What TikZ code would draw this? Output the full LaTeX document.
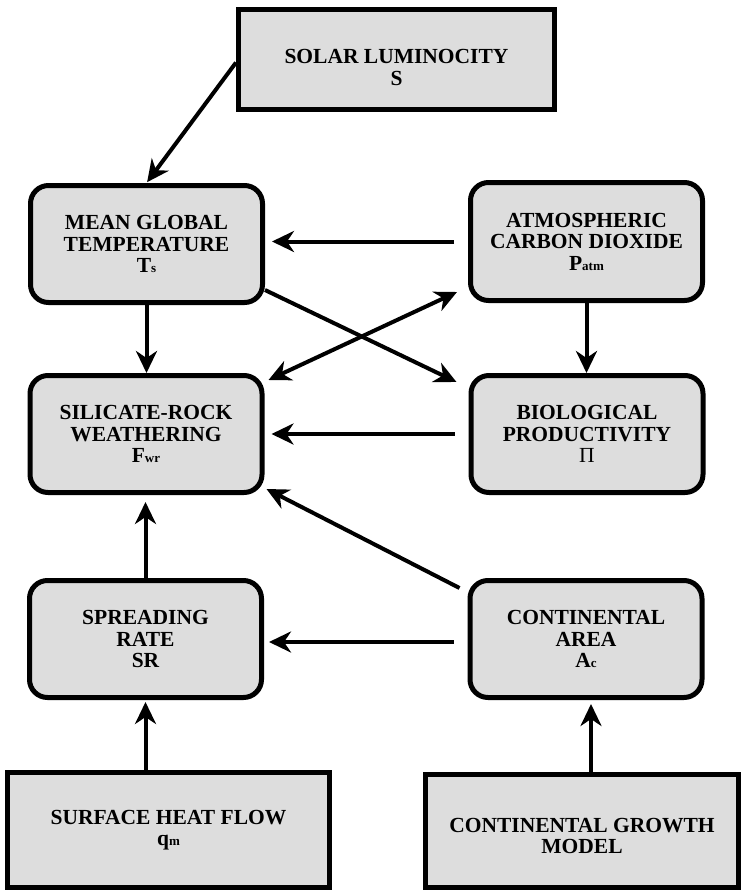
\documentclass[tikz,border=0pt]{standalone}
\usepackage{fontspec}
\setmainfont{Liberation Serif}
\usetikzlibrary{arrows.meta}
\definecolor{boxgray}{HTML}{DDDDDD}
\newcommand{\sbs}[1]{{\fontsize{13}{13}\selectfont #1}}
\begin{document}
\begin{tikzpicture}[x=1pt,y=-1pt,
  box/.style={draw, line width=5pt, fill=boxgray, rounded corners=18pt, align=center,
    font=\fontsize{21.5}{21.5}\selectfont\bfseries, inner sep=0pt,
    minimum width=232pt, minimum height=117pt},
  sqbox/.style={box, sharp corners},
  arr/.style={-{Stealth[length=22pt,width=21pt,inset=7pt]}, line width=4pt},
  darr/.style={{Stealth[length=22pt,width=21pt,inset=7pt]}-{Stealth[length=22pt,width=21pt,inset=7pt]}, line width=4pt}]
\useasboundingbox (0,0) rectangle (742,892);
\node[sqbox, minimum width=316pt, minimum height=100pt] (solar) at (396.5,59.5) {\rule{0pt}{30pt}SOLAR LUMINOCITY\\S};
\node[box] (mean) at (146.5,244) {MEAN GLOBAL\\TEMPERATURE\\T\sbs{s}};
\node[box, minimum height=118pt] (atm) at (586.5,241.5) {ATMOSPHERIC\\CARBON DIOXIDE\\P\sbs{atm}};
\node[box] (sil) at (146,434) {SILICATE-ROCK\\WEATHERING\\F\sbs{wr}};
\node[box] (bio) at (587,434) {BIOLOGICAL\\PRODUCTIVITY\\{\mdseries Π}};
\node[box] (spread) at (145.5,639) {SPREADING\\RATE\\SR};
\node[box] (area) at (586,639) {CONTINENTAL\\AREA\\A\sbs{c}};
\node[sqbox, minimum width=322pt, minimum height=115pt] (heat) at (168.5,830) {SURFACE HEAT FLOW\\q\sbs{m}};
\node[sqbox, minimum width=313pt, minimum height=113pt] (growth) at (582,831) {\rule{0pt}{24pt}CONTINENTAL GROWTH\\MODEL};
% connectors
\draw[arr, shorten >=1pt] ([yshift=-3pt]solar.west) -- (mean.north);
\draw[arr, shorten <=14pt, shorten >=7pt] (atm.west) -- (atm.west -| mean.east);
\draw[arr] (mean.south) -- (mean.south |- sil.north);
\draw[arr] (atm.south) -- (atm.south |- bio.north);
\draw[arr] ([yshift=-46pt]mean.east) -- ([xshift=-12pt,yshift=-9pt]bio.north west);
\draw[darr] ([xshift=4pt,yshift=-7pt]sil.north east) -- ([xshift=-11pt,yshift=11pt]atm.south west);
\draw[arr, shorten <=14pt, shorten >=7pt] (bio.west) -- (bio.west -| sil.east);
\draw[arr] ([xshift=-8pt,yshift=-10pt]area.north west) -- ([xshift=2pt,yshift=6pt]sil.south east);
\draw[arr, shorten >=7pt] (spread.north) -- (spread.north |- sil.south);
\draw[arr, shorten <=14pt, shorten >=5pt] ([yshift=-3pt]area.west) -- ([yshift=-3pt]area.west -| spread.east);
\draw[arr, shorten >=2pt] (spread.south |- heat.north) -- (spread.south);
\draw[arr, shorten >=4pt] ([xshift=5pt]area.south |- growth.north) -- ([xshift=5pt]area.south);
\end{tikzpicture}
\end{document}
